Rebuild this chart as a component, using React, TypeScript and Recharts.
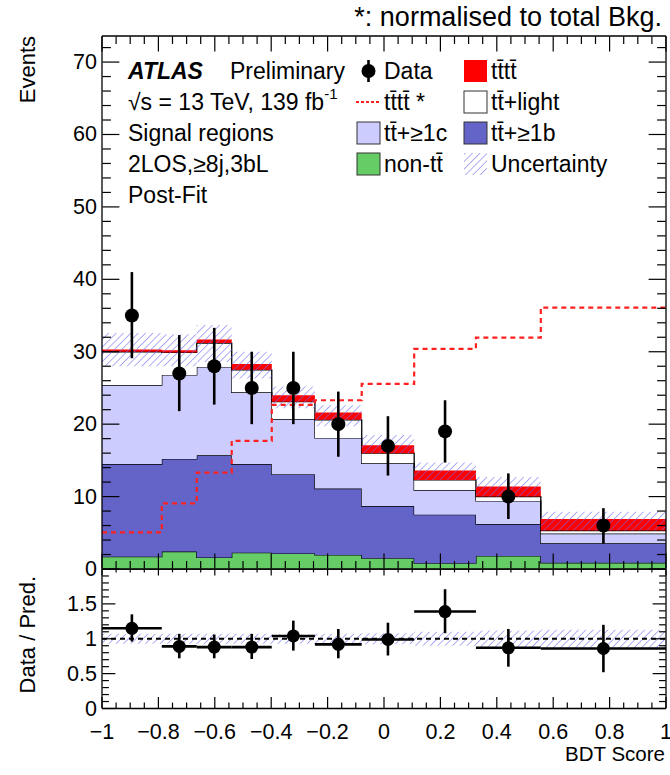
import React from 'react';
import { ComposedChart, Area, Line, Scatter, XAxis, YAxis, ErrorBar, ReferenceLine } from 'recharts';

// ---- data ----
const binEdges = [-1, -0.788, -0.664, -0.54, -0.398, -0.245, -0.079, 0.107, 0.326, 0.556, 1];
const nonTtbar = [1.7, 2.4, 1.6, 2.25, 2.15, 1.95, 1.5, 0.8, 1.8, 0.85];
const ttb = [12.8, 12.8, 14.1, 12.25, 10.95, 9.15, 7.2, 6.7, 4.4, 2.7];
const ttc = [10.9, 11.6, 12.2, 9.9, 7.6, 7.0, 5.9, 3.4, 3.2, 1.35];
const ttlight = [4.6, 3.1, 3.3, 3.1, 2.4, 2.5, 1.4, 1.4, 0.6, 0.4];
const tttt = [0.3, 0.3, 0.5, 0.8, 0.9, 1.0, 1.1, 1.3, 1.4, 1.6];
const ttttNorm = [5.07, 9.07, 13.3, 17.7, 22.65, 23.3, 25.55, 30.4, 31.95, 36.1];
const uncLo = [28.0, 28.0, 28.6, 26.3, 22.2, 19.7, 16.0, 12.3, 10.0, 5.3];
const uncHi = [32.6, 32.4, 33.7, 30.0, 25.2, 22.6, 18.5, 14.7, 12.7, 7.9];
const dataVals = [35, 27, 28, 25, 25, 20, 17, 19, 10, 6];
const dataHi = [41.0, 32.3, 33.3, 30.0, 30.0, 24.5, 21.1, 23.3, 13.2, 8.4];
const dataLo = [29.1, 21.8, 22.7, 20.0, 20.0, 15.5, 12.9, 14.7, 6.9, 3.5];
const ratioVals = [1.15, 0.89, 0.88, 0.88, 1.04, 0.92, 0.99, 1.39, 0.87, 0.86];
const ratioHi = [1.35, 1.07, 1.06, 1.07, 1.26, 1.14, 1.23, 1.71, 1.14, 1.2];
const ratioLo = [0.96, 0.72, 0.72, 0.71, 0.83, 0.72, 0.76, 1.08, 0.6, 0.52];
const ratioUncLo = [0.93, 0.93, 0.92, 0.93, 0.93, 0.92, 0.92, 0.9, 0.88, 0.87];
const ratioUncHi = [1.07, 1.07, 1.07, 1.07, 1.06, 1.07, 1.08, 1.1, 1.12, 1.13];

// tick values
const xMajorTicks = [-1, -0.8, -0.6, -0.4, -0.2, 0, 0.2, 0.4, 0.6, 0.8, 1];
const mainYMajorTicks = [0, 10, 20, 30, 40, 50, 60, 70];
const ratioYMajorTicks = [0, 0.5, 1, 1.5];
const xMinorTicks = Array.from({ length: 41 }, (_, i) => Math.round((-1 + i * 0.05) * 1000) / 1000);
const mainYMinorTicks = Array.from({ length: 37 }, (_, i) => i * 2);
const ratioYMinorTicks = Array.from({ length: 20 }, (_, i) => i / 10);

// ---- layout ----
const FONT = '"Liberation Sans", Arial, Helvetica, sans-serif';
const W = 670;
const H = 775;
const PL = 102;
const PR = 666;
const PT = 36;
const PB = 569;
const RTOP = 568;
const RT = 569;
const RB = 708.5;
const MAIN_YMAX = 73.6;
const RATIO_YMAX = 2;
const TICK_FS = 21.5;
const LEG_FS = 23;
const MAIN_H = 582;

const nB = dataVals.length;
const stepRows = binEdges.map((x, i) => {
  const k = Math.min(i, nB - 1);
  return {
    x,
    nonTt: nonTtbar[k],
    ttb: ttb[k],
    ttc: ttc[k],
    ttl: ttlight[k],
    t4: tttt[k],
    unc: [uncLo[k], uncHi[k]],
    sig: ttttNorm[k],
    rband: [ratioUncLo[k], ratioUncHi[k]],
  };
});
const centers = dataVals.map((_, i) => (binEdges[i] + binEdges[i + 1]) / 2);
const dataPts = dataVals.map((v, i) => ({ x: centers[i], y: v, ey: [v - dataLo[i], dataHi[i] - v] }));
const ratioPts = ratioVals.map((v, i) => ({
  x: centers[i],
  y: v,
  ey: [v - ratioLo[i], ratioHi[i] - v],
  ex: [centers[i] - binEdges[i], binEdges[i + 1] - centers[i]],
}));

const near = (v: number, step: number) => Math.abs(v / step - Math.round(v / step)) < 1e-6;
const fmtX = (v: number) => {
  const s = String(Math.abs(v) < 1e-9 ? 0 : v);
  return s.startsWith('-') ? '\u2212' + s.slice(1) : s;
};

// ---- inward tick marks as one-sided error bars hung on the axis edges ----
const xPerPx = 2 / (PR - PL);
function tickSets(yMax: number, yPerPx: number, yTicks: number[], yMajor: number, xb: number[], xt: number[], yl: number[]) {
  const e = 0.4; // px inside the frame
  const bottom = xMinorTicks.map((v) => ({ x: v, y: e * yPerPx, e: [0, (near(v, 0.2) ? xb[0] : xb[1]) * yPerPx] }));
  const top = xMinorTicks.map((v) => ({ x: v, y: yMax - e * yPerPx, e: [(near(v, 0.2) ? xt[0] : xt[1]) * yPerPx, 0] }));
  const left = yTicks.map((v) => ({ x: -1 + e * xPerPx, y: v, e: [0, (near(v, yMajor) ? yl[0] : yl[1]) * xPerPx] }));
  const right = yTicks.map((v) => ({ x: 1 - e * xPerPx, y: v, e: [(near(v, yMajor) ? yl[0] : yl[1]) * xPerPx, 0] }));
  return { bottom, top, left, right };
}
const mainTickSets = tickSets(MAIN_YMAX, MAIN_YMAX / (PB - PT), mainYMinorTicks, 10, [15, 7.5], [15, 7.5], [17, 8.5]);
const ratioTickSets = tickSets(RATIO_YMAX, RATIO_YMAX / (RB - RT), ratioYMinorTicks, 0.5, [11, 5.5], [6, 3], [13, 6.5]);

const noShape = () => <g />;
function tickScatters(k: string, s: any) {
  return [
    <Scatter key={k + 'b'} xAxisId="b" yAxisId="l" data={s.bottom} dataKey="y" shape={noShape} isAnimationActive={false}>
      <ErrorBar dataKey="e" direction="y" width={0} stroke="#000" strokeWidth={1.2} isAnimationActive={false} />
    </Scatter>,
    <Scatter key={k + 't'} xAxisId="b" yAxisId="l" data={s.top} dataKey="y" shape={noShape} isAnimationActive={false}>
      <ErrorBar dataKey="e" direction="y" width={0} stroke="#000" strokeWidth={1.2} isAnimationActive={false} />
    </Scatter>,
    <Scatter key={k + 'l'} xAxisId="b" yAxisId="l" data={s.left} dataKey="y" shape={noShape} isAnimationActive={false}>
      <ErrorBar dataKey="e" direction="x" width={0} stroke="#000" strokeWidth={1.2} isAnimationActive={false} />
    </Scatter>,
    <Scatter key={k + 'r'} xAxisId="b" yAxisId="l" data={s.right} dataKey="y" shape={noShape} isAnimationActive={false}>
      <ErrorBar dataKey="e" direction="x" width={0} stroke="#000" strokeWidth={1.2} isAnimationActive={false} />
    </Scatter>,
  ];
}

// ---- tick labels ----
const yLabel = (p: any) => (
  <text x={PL - 5} y={p.y} textAnchor="end" dominantBaseline="central" fontSize={TICK_FS} fontFamily={FONT} fill="#000">
    {p.payload.value}
  </text>
);
const ratioXLabel = (p: any) => (
  <text x={p.x} y={RB - RTOP + 23} textAnchor="middle" dominantBaseline="central" fontSize={TICK_FS} fontFamily={FONT} fill="#000">
    {fmtX(p.payload.value)}
  </text>
);

const dot = (r: number) => (p: any) => <circle cx={p.cx} cy={p.cy} r={r} fill="#000" />;

const frame = { stroke: '#000', strokeWidth: 1.3 };
const T = 't\u0304';
const rows = [71, 102, 133, 164, 195];
const C1 = 357;
const C2 = 464;

export default function App() {
  return (
    <div style={{ position: 'absolute', left: 0, top: 0, width: W, height: H, background: '#fff', fontFamily: FONT }}>
      <svg width={1} height={1} style={{ position: 'absolute', left: 0, top: 0 }}>
        <defs>
          <pattern id="hatch" patternUnits="userSpaceOnUse" width={5.2} height={5.2} patternTransform="rotate(45)">
            <line x1={0} y1={0} x2={0} y2={5.2} stroke="#6c6cf0" strokeWidth={1.1} />
          </pattern>
        </defs>
      </svg>

      {/* ratio panel */}
      <div style={{ position: 'absolute', left: 0, top: RTOP }}>
        <ComposedChart width={W} height={H - RTOP} data={stepRows} margin={{ top: 0, right: 0, bottom: 0, left: 0 }}>
          <XAxis xAxisId="b" dataKey="x" type="number" domain={[-1, 1]} ticks={xMajorTicks} interval={0} height={H - RB} tickLine={false} tick={ratioXLabel} axisLine={frame} allowDataOverflow />
          <XAxis xAxisId="t" orientation="top" dataKey="x" type="number" domain={[-1, 1]} ticks={xMajorTicks} interval={0} height={1} tickLine={false} tick={false} axisLine={frame} allowDataOverflow />
          <YAxis yAxisId="l" type="number" domain={[0, RATIO_YMAX]} ticks={ratioYMajorTicks} interval={0} width={PL} tickLine={false} tick={yLabel} axisLine={frame} allowDataOverflow />
          <YAxis yAxisId="r" orientation="right" type="number" domain={[0, RATIO_YMAX]} ticks={ratioYMajorTicks} interval={0} width={W - PR} tickLine={false} tick={false} axisLine={frame} allowDataOverflow />
          <Area xAxisId="b" yAxisId="l" type="stepAfter" dataKey="rband" fill="url(#hatch)" fillOpacity={1} stroke="none" isAnimationActive={false} />
          <ReferenceLine xAxisId="b" yAxisId="l" y={1} stroke="#000" strokeWidth={2} strokeDasharray="5 4" />
          {tickScatters('r', ratioTickSets)}
          <Scatter xAxisId="b" yAxisId="l" data={ratioPts} dataKey="y" shape={dot(6.5)} isAnimationActive={false}>
            <ErrorBar dataKey="ey" direction="y" width={0} stroke="#000" strokeWidth={2.6} isAnimationActive={false} />
            <ErrorBar dataKey="ex" direction="x" width={0} stroke="#000" strokeWidth={2.6} isAnimationActive={false} />
          </Scatter>
        </ComposedChart>
      </div>

      {/* main panel */}
      <div style={{ position: 'absolute', left: 0, top: 0 }}>
        <ComposedChart width={W} height={MAIN_H} data={stepRows} margin={{ top: PT - 1, right: 0, bottom: MAIN_H - PB - 1, left: 0 }}>
          <XAxis xAxisId="b" dataKey="x" type="number" domain={[-1, 1]} ticks={xMajorTicks} interval={0} height={1} tickLine={false} tick={false} axisLine={frame} allowDataOverflow />
          <XAxis xAxisId="t" orientation="top" dataKey="x" type="number" domain={[-1, 1]} ticks={xMajorTicks} interval={0} height={1} tickLine={false} tick={false} axisLine={frame} allowDataOverflow />
          <YAxis yAxisId="l" type="number" domain={[0, MAIN_YMAX]} ticks={mainYMajorTicks} interval={0} width={PL} tickLine={false} tick={yLabel} axisLine={frame} allowDataOverflow />
          <YAxis yAxisId="r" orientation="right" type="number" domain={[0, MAIN_YMAX]} ticks={mainYMajorTicks} interval={0} width={W - PR} tickLine={false} tick={false} axisLine={frame} allowDataOverflow />
          <Area xAxisId="b" yAxisId="l" type="stepAfter" dataKey="nonTt" stackId="s" fill="#66cc66" fillOpacity={1} stroke="#000" strokeWidth={1.3} isAnimationActive={false} />
          <Area xAxisId="b" yAxisId="l" type="stepAfter" dataKey="ttb" stackId="s" fill="#6464c8" fillOpacity={1} stroke="#000" strokeWidth={1.3} isAnimationActive={false} />
          <Area xAxisId="b" yAxisId="l" type="stepAfter" dataKey="ttc" stackId="s" fill="#ccccff" fillOpacity={1} stroke="#000" strokeWidth={1.3} isAnimationActive={false} />
          <Area xAxisId="b" yAxisId="l" type="stepAfter" dataKey="ttl" stackId="s" fill="#ffffff" fillOpacity={1} stroke="#000" strokeWidth={1.3} isAnimationActive={false} />
          <Area xAxisId="b" yAxisId="l" type="stepAfter" dataKey="t4" stackId="s" fill="#ff0000" fillOpacity={1} stroke="none" isAnimationActive={false} />
          <Area xAxisId="b" yAxisId="l" type="stepAfter" dataKey="unc" fill="url(#hatch)" fillOpacity={1} stroke="none" isAnimationActive={false} />
          <Line xAxisId="b" yAxisId="l" type="stepAfter" dataKey="sig" stroke="#ff2020" strokeWidth={2.2} strokeDasharray="5 4" dot={false} activeDot={false} isAnimationActive={false} />
          {tickScatters('m', mainTickSets)}
          <Scatter xAxisId="b" yAxisId="l" data={dataPts} dataKey="y" shape={dot(7)} isAnimationActive={false}>
            <ErrorBar dataKey="ey" direction="y" width={0} stroke="#000" strokeWidth={2.6} isAnimationActive={false} />
          </Scatter>
        </ComposedChart>
      </div>

      {/* text + legend overlay */}
      <svg width={W} height={H} style={{ position: 'absolute', left: 0, top: 0, pointerEvents: 'none' }} fontFamily={FONT}>
        <text x={662} y={17} textAnchor="end" dominantBaseline="central" fontSize={27}>*: normalised to total Bkg.</text>
        <text transform="translate(27,36) rotate(-90)" textAnchor="end" dominantBaseline="central" fontSize={22}>Events</text>
        <text transform="translate(27,576) rotate(-90)" textAnchor="end" dominantBaseline="central" fontSize={22}>Data / Pred.</text>
        <text x={665} y={753} textAnchor="end" dominantBaseline="central" fontSize={20.5}>BDT Score</text>

        {/* ATLAS label block */}
        <text x={128} y={rows[0]} dominantBaseline="central" fontSize={LEG_FS} fontWeight="bold" fontStyle="italic">ATLAS</text>
        <text x={230} y={rows[0]} dominantBaseline="central" fontSize={LEG_FS}>Preliminary</text>
        <text x={128} y={rows[1]} dominantBaseline="central" fontSize={LEG_FS}>
          {'\u221As = 13 TeV, 139 fb'}
          <tspan fontSize={15} dy={-9}>-1</tspan>
        </text>
        <text x={128} y={rows[2]} dominantBaseline="central" fontSize={LEG_FS}>Signal regions</text>
        <text x={128} y={rows[3]} dominantBaseline="central" fontSize={LEG_FS}>2LOS,{'\u2265'}8j,3bL</text>
        <text x={128} y={rows[4]} dominantBaseline="central" fontSize={LEG_FS}>Post-Fit</text>

        {/* legend column 1 */}
        <line x1={C1 + 11.5} x2={C1 + 11.5} y1={rows[0] - 11} y2={rows[0] + 11} stroke="#000" strokeWidth={2.6} />
        <circle cx={C1 + 11.5} cy={rows[0]} r={7} fill="#000" />
        <text x={C1 + 27} y={rows[0]} dominantBaseline="central" fontSize={LEG_FS}>Data</text>
        <line x1={C1 - 1} x2={C1 + 24} y1={rows[1]} y2={rows[1]} stroke="#ff2020" strokeWidth={2} strokeDasharray="3 2" />
        <text x={C1 + 27} y={rows[1]} dominantBaseline="central" fontSize={LEG_FS}>{'t' + T + 't' + T + ' *'}</text>
        <rect x={C1} y={rows[2] - 11} width={23} height={22} fill="#ccccff" stroke="#333" strokeWidth={1} />
        <text x={C1 + 27} y={rows[2]} dominantBaseline="central" fontSize={LEG_FS}>{'t' + T + '+\u22651c'}</text>
        <rect x={C1} y={rows[3] - 11} width={23} height={22} fill="#66cc66" stroke="#333" strokeWidth={1} />
        <text x={C1 + 27} y={rows[3]} dominantBaseline="central" fontSize={LEG_FS}>{'non-t' + T}</text>

        {/* legend column 2 */}
        <rect x={C2} y={rows[0] - 11} width={23} height={22} fill="#ff0000" stroke="none" />
        <text x={C2 + 27} y={rows[0]} dominantBaseline="central" fontSize={LEG_FS}>{'t' + T + 't' + T}</text>
        <rect x={C2} y={rows[1] - 11} width={23} height={22} fill="#fff" stroke="#333" strokeWidth={1} />
        <text x={C2 + 27} y={rows[1]} dominantBaseline="central" fontSize={LEG_FS}>{'t' + T + '+light'}</text>
        <rect x={C2} y={rows[2] - 11} width={23} height={22} fill="#6464c8" stroke="#333" strokeWidth={1} />
        <text x={C2 + 27} y={rows[2]} dominantBaseline="central" fontSize={LEG_FS}>{'t' + T + '+\u22651b'}</text>
        <rect x={C2} y={rows[3] - 11} width={23} height={22} fill="url(#hatch)" stroke="none" />
        <text x={C2 + 27} y={rows[3]} dominantBaseline="central" fontSize={LEG_FS}>Uncertainty</text>
      </svg>
    </div>
  );
}
